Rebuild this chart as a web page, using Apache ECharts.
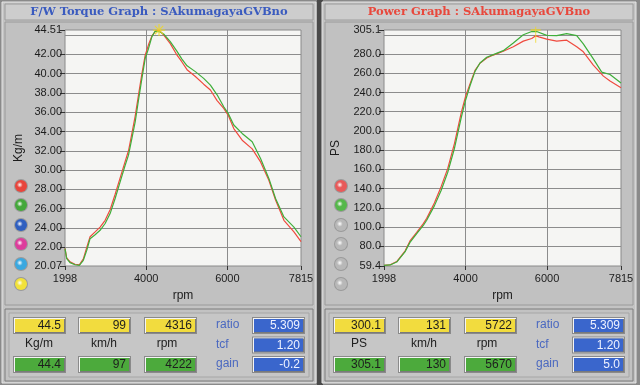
<!DOCTYPE html>
<html><head><meta charset="utf-8">
<script src="https://cdn.jsdelivr.net/npm/echarts@6/dist/echarts.min.js"></script>
<style>html,body{margin:0;padding:0;background:#8c8c8c}#c{width:640px;height:385px}</style>
</head><body><div id="c"></div>
<script>
// ---- data ----
const torqueGreenRpm = [1998,2040,2122,2245,2352,2450,2534,2616,2740,2863,2987,3110,3234,3357,3481,3563,3647,3728,3810,3894,3975,4057,4141,4222,4346,4428,4593,4759,4880,5006,5211,5416,5582,5747,5911,6019,6158,6365,6612,6818,7023,7188,7394,7641,7815];
const torqueGreen = [21.87,20.84,20.42,20.2,20.14,20.66,21.7,22.9,23.3,23.77,24.47,25.5,27.06,28.78,30.5,31.55,33.28,35.0,37.26,39.5,41.58,42.6,43.82,44.4,44.3,44.1,43.3,42.3,41.5,40.8,40.2,39.5,38.8,37.8,36.56,35.88,34.67,33.8,32.93,31.2,29.14,27.06,25.15,24.1,23.1];
const torqueRedRpm = [1998,2040,2122,2245,2352,2450,2534,2616,2740,2863,2987,3110,3234,3357,3481,3563,3647,3728,3810,3894,3975,4057,4141,4230,4316,4428,4593,4759,4880,5006,5211,5416,5582,5747,5911,6019,6158,6365,6612,6818,7023,7188,7394,7641,7815];
const torqueRed = [21.9,20.9,20.5,20.25,20.2,20.8,22.0,23.1,23.6,24.1,24.8,25.9,27.5,29.2,30.9,32.0,33.8,35.6,37.8,40.0,41.9,43.0,43.9,44.4,44.5,44.0,43.1,41.9,41.2,40.4,39.7,38.9,38.3,37.2,36.4,35.7,34.3,33.1,32.2,30.85,28.95,26.9,24.8,23.6,22.6];
const powerGreenRpm = [1998,2150,2310,2513,2636,2801,2963,3046,3234,3400,3563,3728,3894,4000,4109,4232,4354,4519,4681,4926,5172,5417,5624,5670,5746,5992,6237,6482,6728,6890,7136,7342,7546,7815];
const powerGreen = [60,60.5,63.5,74,84,93,101.6,107,122,138,157,182,214,232,247,262,270.8,276.7,279.5,283.6,291.5,300.2,303.5,305.1,303.6,299.5,299.2,301.4,299.2,290.6,275,261.2,258.8,250];
const powerRedRpm = [1998,2150,2310,2513,2636,2801,2963,3046,3234,3400,3563,3728,3894,4000,4109,4232,4354,4519,4681,4926,5172,5417,5624,5722,5800,5992,6237,6482,6728,6890,7136,7383,7546,7815];
const powerRed = [60,60.7,64,75,85.5,94.5,103.5,109,125,142,161,187,219,236,249,263,270.5,276,279,283,287.6,293.5,296.2,299,298,295.6,293.5,294.5,287.6,282.4,268.6,257.1,251.9,245];

const rpmTicks = [1998,4000,6000,7815];
const rpmGrid = [4000,6000];
const torqueTicks = [20.07,22,24,26,28,30,32,34,36,38,40,42,44.51];
const torqueGrid = [22,24,26,28,30,32,34,36,38,40,42,44];
const powerTicks = [59.4,80,100,120,140,160,180,200,220,240,260,280,305.1];
const powerGrid = [80,100,120,140,160,180,200,220,240,260,280,300];

const torqueTitle = 'F/W Torque Graph : SAkumagayaGVBno';
const powerTitle = 'Power Graph : SAkumagayaGVBno';
const torqueCursor = [4316, 44.5];   // yellow marker (red peak)
const torqueGreenPeak = [4222, 44.4];
const powerCursor = [5722, 300.1];
const powerGreenPeak = [5670, 305.1];

const leftYellow = ['44.5','99','4316'];
const leftUnits = ['Kg/m','km/h','rpm'];
const leftGreen = ['44.4','97','4222'];
const rightYellow = ['300.1','131','5722'];
const rightUnits = ['PS','km/h','rpm'];
const rightGreen = ['305.1','130','5670'];
const sideNames = ['ratio','tcf','gain'];
const leftBlue = ['5.309','1.20','-0.2'];
const rightBlue = ['5.309','1.20','5.0'];
const leftDots = ['#e8453c','#44a83a','#2f5fc0','#dd3d9c','#3aa8e0','#f2e23a'];
const rightDots = ['#e85a5a','#55b84a','#b8b8b8','#b8b8b8','#b8b8b8','#b8b8b8'];

// ---- helpers ----
const zip = (a,b) => a.map((v,i)=>[v,b[i]]);
const FONT = 'Liberation Sans';
const graphics = [];
function rect(x,y,w,h,fill,stroke,lw){graphics.push({type:'rect',silent:true,z:-10,shape:{x,y,width:w,height:h},style:{fill,stroke:stroke||null,lineWidth:lw||1}});}
function text(x,y,t,opts){graphics.push({type:'text',silent:true,z:-10,x,y,style:Object.assign({text:t,font:'12px '+FONT,fill:'#222',align:'left',verticalAlign:'middle'},opts||{})});}
function box(x,y,w,h,fill,t,col){
  rect(x-1,y-1,w+2,h+2,'#8a8a8a');
  rect(x,y,w,h,'#f4f4f4');
  rect(x+1,y+1,w-1,h-1,'#7a7a7a');
  rect(x+1,y+1,w-2,h-2,fill);
  text(x+w-4,y+h/2+0.5,t,{align:'right',font:'12px '+FONT,fill:col});
}
function dot(cx,cy,c){
  graphics.push({type:'circle',silent:true,z:-10,shape:{cx,cy,r:7},style:{fill:'#9a9a9a'}});
  graphics.push({type:'circle',silent:true,z:-10,shape:{cx,cy,r:6},style:{fill:{type:'radial',x:0.4,y:0.4,r:0.7,colorStops:[{offset:0,color:'#ffffff'},{offset:0.35,color:c},{offset:1,color:c}]}}});
}
function panel(ox,title,titleColor,yel,units,grn,blue,dots){
  rect(ox+2,2,314,381,'#c3c3c3','#e6e6e6');
  rect(ox+5,4,308,16,'#cdcdcd','#9c9c9c');
  text(ox+159,12.5,title,{align:'center',font:'bold 11.5px "DejaVu Serif"',fill:titleColor});
  rect(ox+5,22,308,283,'#c1c1c1','#9a9a9a');
  rect(ox+5,309,308,72,'#c2c2c2','#7c7c7c');
  rect(ox+9,313,300,64,'#c6c6c6','#a6a6a6');
  const bx=[14,79,145];
  for(let i=0;i<3;i++){
    box(ox+bx[i],318,51,15,'#f2dc3e',yel[i],'#1e1e1e');
    box(ox+bx[i],357,51,15,'#4caa3c',grn[i],'#1e1e1e');
  }
  const ux=[39,104,167];
  for(let i=0;i<3;i++) text(ox+ux[i],344,units[i],{align:'center',font:'12px '+FONT,fill:'#202020'});
  for(let i=0;i<3;i++){
    text(ox+216,325+i*19.5,sideNames[i],{font:'12px '+FONT,fill:'#4a68c0'});
    box(ox+253,318+i*19.5,51,15,'#3a66cc',blue[i],'#eef2ff');
  }
  const dy=[186,205,225,244,264,284];
  for(let i=0;i<6;i++) dot(ox+21,dy[i],dots[i]);
}
rect(0,0,640,385,'#8a8a8a');
rect(317,0,6,385,'#4a4a4a');
panel(0,torqueTitle,'#3a5bbf',leftYellow,leftUnits,leftGreen,leftBlue,leftDots);
panel(320,powerTitle,'#e8483c',rightYellow,rightUnits,rightGreen,rightBlue,rightDots);

const axisText = {fontFamily:FONT,fontSize:11,color:'#1c1c1c'};
function xAxis(i){
  return [{
    type:'value',gridIndex:i,min:1998,max:7815,
    name:'rpm',nameLocation:'middle',nameGap:24,nameTextStyle:{fontFamily:FONT,fontSize:12,color:'#1c1c1c'},
    axisLine:{show:false},
    axisTick:{show:true,length:4,lineStyle:{color:'#333'},customValues:rpmTicks},
    axisLabel:Object.assign({customValues:rpmTicks,margin:7,showMinLabel:true,showMaxLabel:true,formatter:v=>String(Math.round(v))},axisText),
    splitLine:{show:false}
  },{
    type:'value',gridIndex:i,min:1998,max:7815,
    axisLine:{show:false},axisTick:{show:false,customValues:rpmGrid},axisLabel:{show:false,customValues:rpmGrid},
    splitLine:{show:true,lineStyle:{color:'#8c8c8c',width:1}}
  }];
}
function yAxis(i,min,max,ticks,gridv,name,dec,gap){
  return [{
    type:'value',gridIndex:i,min,max,
    name,nameLocation:'middle',nameGap:gap,nameTextStyle:{fontFamily:FONT,fontSize:12,color:'#1c1c1c'},
    axisLine:{show:false},
    axisTick:{show:true,length:5,lineStyle:{color:'#333'},customValues:ticks},
    axisLabel:Object.assign({customValues:ticks,margin:3,formatter:v=>Number(v).toFixed(dec)},axisText),
    splitLine:{show:false}
  },{
    type:'value',gridIndex:i,min,max,
    axisLine:{show:false},axisTick:{show:false,customValues:gridv},axisLabel:{show:false,customValues:gridv},
    splitLine:{show:true,lineStyle:{color:'#8c8c8c',width:1}}
  }];
}
const xs=[...xAxis(0),...xAxis(1)];
const ys=[...yAxis(0,20.07,44.51,torqueTicks,torqueGrid,'Kg/m',2,40),...yAxis(1,59.4,305.1,powerTicks,powerGrid,'PS',1,42)];

function line(xi,yi,data,color,z){
  return {type:'line',xAxisIndex:xi,yAxisIndex:yi,data,showSymbol:false,symbol:'none',lineStyle:{color,width:1.2},z:z||3,silent:true,animation:false,clip:true};
}
function marker(xi,yi,pt,sym,color,size){
  return {type:'scatter',xAxisIndex:xi,yAxisIndex:yi,data:[pt],symbol:sym,symbolSize:size,itemStyle:{color:null,borderColor:color,borderWidth:1.2},z:5,silent:true,animation:false};
}
const plus='path://M0,5L10,5M5,0L5,10M1.5,1.5L8.5,8.5M8.5,1.5L1.5,8.5';

const chart=echarts.init(document.getElementById('c'),null,{renderer:'canvas'});
chart.setOption({
  animation:false,
  backgroundColor:'#8a8a8a',
  graphic:graphics,
  grid:[
    {left:65,top:30,width:236,height:236,show:true,backgroundColor:'#f5f5f3',borderColor:'#8a8a8a',borderWidth:1},
    {left:384,top:30,width:237,height:236,show:true,backgroundColor:'#f5f5f3',borderColor:'#8a8a8a',borderWidth:1}
  ],
  xAxis:xs,
  yAxis:ys,
  series:[
    line(0,0,zip(torqueRedRpm,torqueRed),'#ef4a3e',3),
    line(0,0,zip(torqueGreenRpm,torqueGreen),'#3fae3a',4),
    line(2,2,zip(powerRedRpm,powerRed),'#ef4a3e',3),
    line(2,2,zip(powerGreenRpm,powerGreen),'#3fae3a',4),
    marker(0,0,torqueCursor,plus,'#f0d820',12),
    marker(0,0,torqueGreenPeak,'path://M0,0L10,0','#3fae3a',[22,1]),
    marker(2,2,powerCursor,'path://M5,0L5,10M0,2L10,2','#f0d820',[10,16]),
    marker(2,2,powerGreenPeak,'path://M0,0L10,0','#3fae3a',[26,1])
  ]
});
</script></body></html>
